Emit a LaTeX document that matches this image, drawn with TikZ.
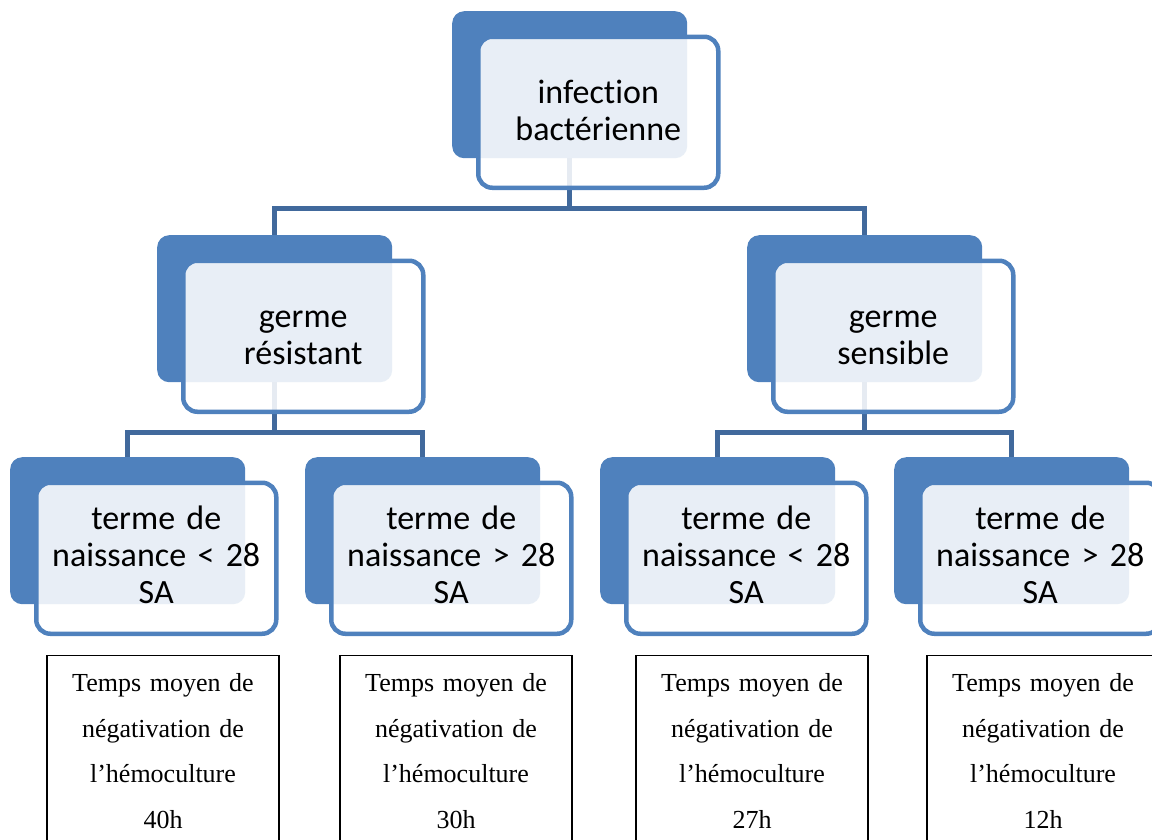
\documentclass[tikz,border=0pt]{standalone}
\usepackage{fontspec}
\setmainfont{Liberation Serif}
\newfontfamily\cardfont[Ligatures=NoCommon]{Carlito}
\definecolor{cardblue}{HTML}{4F81BD}
\definecolor{linkblue}{HTML}{41699C}
\tikzset{
  back/.style={fill=cardblue,rounded corners=12pt,minimum width=235pt,minimum height=147pt,inner sep=0pt,anchor=north west},
  front/.style={draw=cardblue,line width=4.5pt,fill=white,fill opacity=0.87,text opacity=1,rounded corners=14pt,
    minimum width=240pt,minimum height=151pt,inner sep=0pt,text width=226pt,align=center,anchor=north west,
    font=\cardfont\fontsize{34}{37}\selectfont,text height=24pt,text depth=41pt},
  three/.style={text depth=82pt},
  link/.style={draw=linkblue,line width=5pt},
  result/.style={draw,line width=1.2pt,anchor=north,text width=226pt,align=center,inner xsep=3pt,inner ysep=18pt,
    font=\fontsize{26}{45.5}\selectfont},
}
\begin{document}
\begin{tikzpicture}[x=1pt,y=-1pt]
\pgfmathsetmacro{\offX}{24}
\pgfmathsetmacro{\offY}{23.5}
\pgfmathsetmacro{\stL}{50}
\useasboundingbox (0,0) rectangle (1152,839);
% back cards
\node[back](infB) at (452,11) {};
\node[back](resB) at (157,235) {};
\node[back](senB) at (747,235) {};
\node[back](tAB) at (10,457) {};
\node[back](tBB) at (305,457) {};
\node[back](tCB) at (600,457) {};
\node[back](tDB) at (894,457) {};
% links
\draw[link](infB.south)--++(0,\stL)-|(resB.north);
\draw[link](infB.south)--++(0,\stL)-|(senB.north);
\draw[link](resB.south)--++(0,\stL)-|(tAB.north);
\draw[link](resB.south)--++(0,\stL)-|(tBB.north);
\draw[link](senB.south)--++(0,\stL)-|(tCB.north);
\draw[link](senB.south)--++(0,\stL)-|(tDB.north);
% front cards
\node[front](infF) at ([shift={(\offX,\offY)}]infB.north west) {infection\\bactérienne};
\node[front](resF) at ([shift={(\offX,\offY)}]resB.north west) {germe\\résistant};
\node[front](senF) at ([shift={(\offX,\offY)}]senB.north west) {germe\\sensible};
\node[front,three](tAF) at ([shift={(\offX,\offY)}]tAB.north west) {terme de\\naissance < 28\\SA};
\node[front,three](tBF) at ([shift={(\offX,\offY)}]tBB.north west) {terme de\\naissance > 28\\SA};
\node[front,three](tCF) at ([shift={(\offX,\offY)}]tCB.north west) {terme de\\naissance < 28\\SA};
\node[front,three](tDF) at ([shift={(\offX,\offY)}]tDB.north west) {terme de\\naissance > 28\\SA};
%
\node[result](rA) at (163,655) {Temps moyen de\\négativation de\\l’hémoculture\\40h};
\node[result](rB) at (456,655) {Temps moyen de\\négativation de\\l’hémoculture\\30h};
\node[result](rC) at (752,655) {Temps moyen de\\négativation de\\l’hémoculture\\27h};
\node[result](rD) at (1043,655) {Temps moyen de\\négativation de\\l’hémoculture\\12h};
\end{tikzpicture}
\end{document}
